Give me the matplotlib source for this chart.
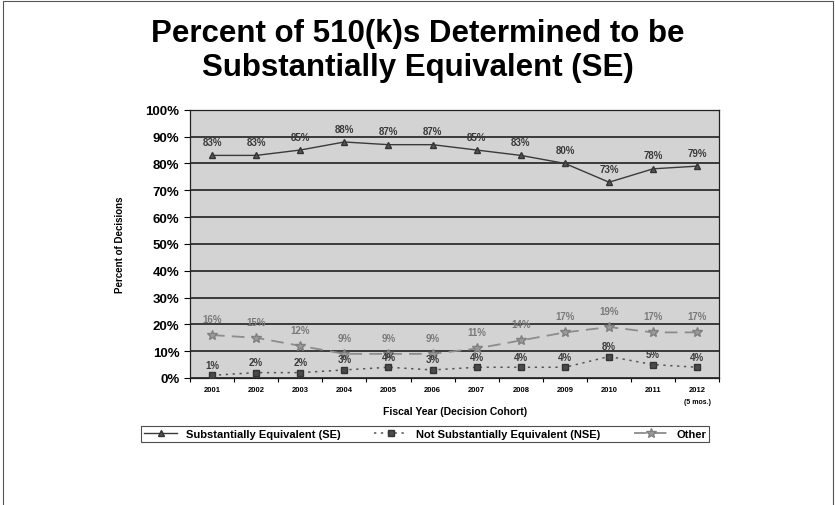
import matplotlib
matplotlib.use("Agg")
import matplotlib.pyplot as plt
import matplotlib.ticker as ticker
from matplotlib.patches import Rectangle

plt.rcParams['font.family'] = ['Liberation Sans', 'DejaVu Sans']

# Decision cohorts and shares of each outcome (percent)
years = ["2001", "2002", "2003", "2004", "2005", "2006",
         "2007", "2008", "2009", "2010", "2011", "2012"]
se = [83, 83, 85, 88, 87, 87, 85, 83, 80, 73, 78, 79]
nse = [1, 2, 2, 3, 4, 3, 4, 4, 4, 8, 5, 4]
other = [16, 15, 12, 9, 9, 9, 11, 14, 17, 19, 17, 17]

x = list(range(len(years)))

fig = plt.figure(figsize=(8.35, 5.06), dpi=100)
ax = fig.add_axes([0.2275, 0.251, 0.634, 0.530])
ax.set_facecolor("#d3d3d3")

# Series
ax.plot(x, se, color="#3a3a3a", lw=1.0, marker="^", ms=5,
        mfc="#555555", mec="#333333", label="Substantially Equivalent (SE)", zorder=4)
ax.plot(x, nse, color="#555555", lw=1.1, linestyle=(0, (1.5, 3)), marker="s", ms=4.5,
        mfc="#4a4a4a", mec="#333333", label="Not Substantially Equivalent (NSE)", zorder=4)
ax.plot(x, other, color="#8c8c8c", lw=1.3, linestyle=(0, (7, 4)), marker="*", ms=7,
        mfc="#9a9a9a", mec="#808080", label="Other", zorder=3)

# Value labels
for xi, v in zip(x, se):
    ax.annotate(f"{v}%", (xi, v), xytext=(0, 6), textcoords="offset points",
                ha="center", va="bottom", fontsize=7, fontweight="bold", color="#3a3a3a")
for xi, v in zip(x, nse):
    ax.annotate(f"{v}%", (xi, v), xytext=(0, 4), textcoords="offset points",
                ha="center", va="bottom", fontsize=7, fontweight="bold", color="#3a3a3a")
for xi, v in zip(x, other):
    ax.annotate(f"{v}%", (xi, v), xytext=(0, 8), textcoords="offset points",
                ha="center", va="bottom", fontsize=7, fontweight="bold", color="#7a7a7a")

# Axes, ticks and grid
ax.set_xlim(-0.5, len(years) - 0.5)
ax.set_ylim(0, 100)
ax.yaxis.set_major_locator(ticker.MultipleLocator(10))
ax.yaxis.set_major_formatter(ticker.FuncFormatter(lambda v, _: f"{v:.0f}%"))
ax.set_xticks(x)
ax.set_xticklabels(years)
ax.xaxis.set_minor_locator(ticker.FixedLocator([i + 0.5 for i in range(-1, len(years))]))
ax.tick_params(axis="x", which="major", length=0, pad=6, labelsize=5.5)
ax.tick_params(axis="x", which="minor", length=3, width=0.8, direction="out")
ax.tick_params(axis="y", length=4, width=0.8, labelsize=9.5)
for lab in ax.get_xticklabels() + ax.get_yticklabels():
    lab.set_fontweight("bold")
ax.grid(axis="y", color="#111111", lw=1.1)
ax.set_axisbelow(True)
for s in ax.spines.values():
    s.set_color("#222222")
    s.set_linewidth(0.9)

ax.text(len(years) - 1, -0.075, "(5 mos.)", transform=ax.get_xaxis_transform(),
        ha="center", va="top", fontsize=5, fontweight="bold")

ax.set_xlabel("Fiscal Year (Decision Cohort)", fontsize=7.5, fontweight="bold", labelpad=9)
ax.set_ylabel("Percent of Decisions", fontsize=7, fontweight="bold", labelpad=15)

# Title
fig.text(0.5, 0.900, "Percent of 510(k)s Determined to be\nSubstantially Equivalent (SE)",
         ha="center", va="center", fontsize=22.5, fontweight="bold", linespacing=1.18)

# Legend
leg = fig.legend(loc="center", bbox_to_anchor=(0.509, 0.140), ncol=3, frameon=True,
                 fancybox=False, edgecolor="#222222", handlelength=3, columnspacing=3,
                 borderpad=0.3, prop={"size": 8, "weight": "bold"})
leg.get_frame().set_linewidth(0.8)

# Outer frame
fig.patches.append(Rectangle((0.004, -0.01), 0.994, 1.006, transform=fig.transFigure,
                             fill=False, edgecolor="#555555", lw=0.8))

plt.savefig("out.png", dpi=100)
